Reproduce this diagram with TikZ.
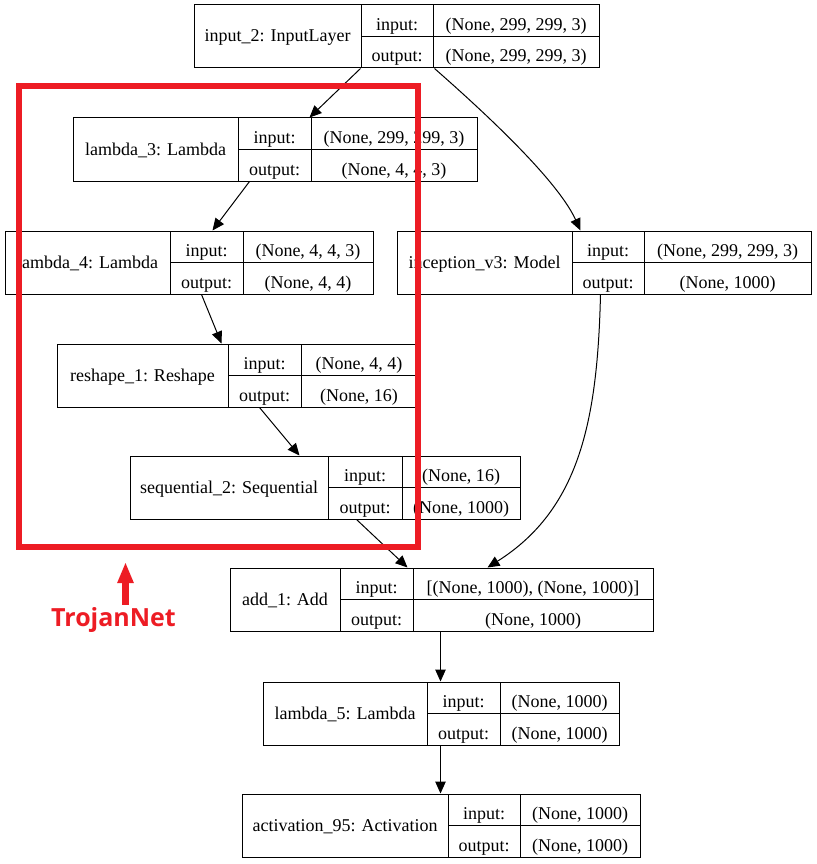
\documentclass[tikz,border=0pt]{standalone}
\usepackage{fontspec}
\setmainfont{Liberation Serif}
\newfontfamily\gvfont{Liberation Serif}
\newfontfamily\trojanfont{Open Sans}
\usetikzlibrary{arrows.meta,fit}
\definecolor{trojanred}{RGB}{237,28,36}
\tikzset{
  box/.style={draw=black, line width=1pt, inner sep=0pt},
  cell/.style={draw=black, line width=1pt},
  txt/.style={font=\gvfont\fontsize{18}{22}\selectfont, inner sep=0pt, anchor=base},
  edge/.style={-{Triangle[length=12pt,width=10.5pt]}, line width=1pt, draw=black},
  redbox/.style={draw=trojanred, line width=6pt, inner sep=0pt},
  redarrow/.style={-{Triangle[length=21pt,width=15pt]}, line width=7pt, draw=trojanred},
  trojantext/.style={font=\trojanfont\bfseries\fontsize{25}{30}\selectfont, text=trojanred, inner sep=0pt, anchor=base}
}
\newcommand\layerbox[9]{%
  \node[box, fit={(#2,#6) (#5,#6+63)}] (#1) {};
  \draw[cell] (#3,#6) -- (#3,#6+63) (#4,#6) -- (#4,#6+63) (#3,#6+31.5) -- (#5,#6+31.5);
  \node[txt] (#1-name) at ({(#2+#3)/2},#6+37) {#7};
  \node[txt] (#1-il) at ({(#3+#4)/2},#6+25.5) {input:};
  \node[txt] (#1-ol) at ({(#3+#4)/2},#6+57) {output:};
  \node[txt] (#1-iv) at ({(#4+#5)/2},#6+25.5) {#8};
  \node[txt] (#1-ov) at ({(#4+#5)/2},#6+57) {#9};
}
\begin{document}
\begin{tikzpicture}[x=1pt,y=-1pt]
\path[use as bounding box, fill=white] (0,0) rectangle (816,864);

\layerbox{in2}{194}{361}{433}{599}{5}{input\_2: InputLayer}{(None, 299, 299, 3)}{(None, 299, 299, 3)}
\layerbox{l3}{73}{238}{311}{477}{118}{lambda\_3: Lambda}{(None, 299, 299, 3)}{(None, 4, 4, 3)}
\layerbox{l4}{5}{170}{243}{373}{231}{lambda\_4: Lambda}{(None, 4, 4, 3)}{(None, 4, 4)}
\layerbox{inc}{397}{572}{644}{811}{231}{inception\_v3: Model}{(None, 299, 299, 3)}{(None, 1000)}
\layerbox{r1}{57}{228}{301}{417}{344}{reshape\_1: Reshape}{(None, 4, 4)}{(None, 16)}
\layerbox{s2}{130}{328}{402}{520}{456}{sequential\_2: Sequential}{(None, 16)}{(None, 1000)}
\layerbox{add}{230}{340}{413}{653}{568}{add\_1: Add}{[(None, 1000), (None, 1000)]}{(None, 1000)}
\layerbox{l5}{263}{427}{500}{619}{682}{lambda\_5: Lambda}{(None, 1000)}{(None, 1000)}
\layerbox{act}{242}{448}{520}{640}{794}{activation\_95: Activation}{(None, 1000)}{(None, 1000)}

\draw[edge] ([xshift=167pt]in2.south west) -- ([xshift=237pt]l3.north west);
\draw[edge] ([xshift=241pt]in2.south west) .. controls +(65,57) and +(-21,-46) .. ([xshift=184pt]inc.north west);
\draw[edge] ([xshift=177pt]l3.south west) -- ([xshift=208pt]l4.north west);
\draw[edge] ([xshift=197pt]l4.south west) -- ([xshift=165pt]r1.north west);
\draw[edge] ([xshift=203pt]r1.south west) -- ([xshift=170pt]s2.north west);
\draw[edge] ([xshift=227pt]s2.south west) -- ([xshift=178pt]add.north west);
\draw[edge] ([xshift=204pt]inc.south west) .. controls +(-3,126) and +(92,-58) .. ([xshift=258pt]add.north west);
\draw[edge] ([xshift=211pt]add.south west) -- ([xshift=178pt]l5.north west);
\draw[edge] ([xshift=178pt]l5.south west) -- ([xshift=199pt]act.north west);

\node[redbox, fit={(18.5,86) (417.5,547)}] (trojanbox) {};
\node[trojantext] (trojan) at (113.5,626) {TrojanNet};
\coordinate (trojantip) at (125.5,562);
\draw[redarrow] ([xshift=12pt,yshift=2pt]trojan.north) -- (trojantip);
\end{tikzpicture}
\end{document}
